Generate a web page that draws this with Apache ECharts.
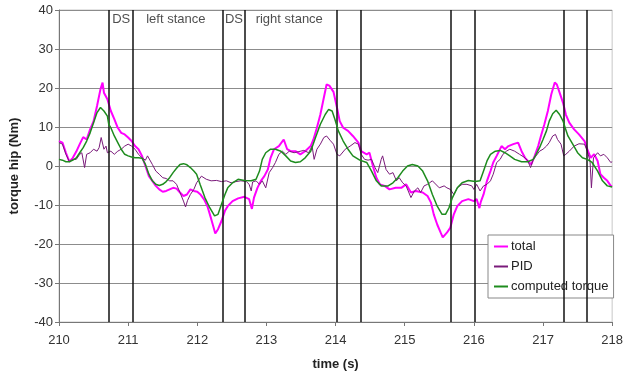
<!DOCTYPE html>
<html>
<head>
<meta charset="utf-8">
<script src="https://cdn.jsdelivr.net/npm/echarts@6/dist/echarts.min.js"></script>
<style>
  html, body { margin: 0; padding: 0; background: #fff; }
  #main { width: 626px; height: 377px; }
</style>
</head>
<body>
<div id="main"></div>
<script>
// gait phase boundaries (s)
const phaseLines = [210.72, 211.06, 212.37, 212.69, 214.01, 214.36, 215.67, 216.01, 217.30, 217.63]
const phaseLabels = [
  ['DS', 210.90, 37.6],
  ['left stance', 211.69, 37.6],
  ['DS', 212.53, 37.6],
  ['right stance', 213.33, 37.6],
]

const total = [
  [210.00, 6.4], [210.05, 6.0], [210.10, 3.4], [210.15, 1.1], [210.20, 2.1], [210.25, 3.7], [210.30, 5.6], [210.35, 7.4],
  [210.40, 6.8], [210.45, 9.4], [210.50, 11.5], [210.55, 15.4], [210.60, 19.7], [210.63, 21.4], [210.65, 18.8], [210.70, 17.1],
  [210.75, 14.1], [210.80, 12.0], [210.85, 9.8], [210.90, 8.5], [210.95, 8.1], [211.00, 7.3], [211.05, 6.4], [211.10, 5.1],
  [211.15, 4.3], [211.20, 2.6], [211.25, 0], [211.30, -2.6], [211.35, -3.8], [211.40, -5.1], [211.45, -6.0], [211.50, -6.6],
  [211.55, -6.4], [211.60, -6.0], [211.65, -5.6], [211.70, -5.8], [211.75, -6.8], [211.80, -7.7], [211.85, -7.3], [211.90, -6.0],
  [211.95, -6.4], [212.00, -6.6], [212.05, -7.4], [212.10, -8.6], [212.15, -10.5], [212.20, -13.5], [212.23, -15.4], [212.26, -17.3],
  [212.30, -16.2], [212.35, -14.1], [212.40, -11.5], [212.44, -10.3], [212.51, -9.0], [212.59, -8.3], [212.68, -7.9], [212.75, -8.5],
  [212.79, -11.0], [212.82, -8.1], [212.87, -5.6], [212.92, -3.8], [212.97, -2.6], [213.02, -0.9], [213.06, 2.1], [213.11, 4.3],
  [213.18, 5.1], [213.25, 6.8], [213.30, 4.3], [213.35, 3.8], [213.42, 3.8], [213.49, 3.0], [213.56, 3.8], [213.64, 5.1],
  [213.68, 6.8], [213.73, 9.8], [213.78, 13.2], [213.83, 17.5], [213.87, 20.9], [213.91, 20.6], [213.97, 19.0], [214.02, 15.0],
  [214.06, 11.5], [214.11, 9.8], [214.18, 9.0], [214.25, 7.7], [214.33, 6.0], [214.37, 3.8], [214.45, 3.0], [214.49, 3.4],
  [214.54, 0], [214.59, -3.0], [214.64, -4.7], [214.71, -5.1], [214.78, -6.0], [214.87, -5.6], [214.95, -5.6], [215.02, -4.7],
  [215.09, -6.8], [215.16, -6.4], [215.26, -6.8], [215.33, -7.7], [215.38, -9.4], [215.42, -12.4], [215.47, -15.0], [215.52, -17.1],
  [215.55, -18.3], [215.61, -17.1], [215.66, -15.8], [215.71, -12.4], [215.76, -10.3], [215.83, -9.0], [215.92, -8.5], [216.00, -9.0],
  [216.04, -8.5], [216.08, -10.8], [216.10, -9.2], [216.14, -7.3], [216.19, -3.8], [216.24, -1.3], [216.28, 0.9], [216.33, 2.6],
  [216.40, 5.1], [216.45, 4.3], [216.50, 5.1], [216.57, 5.6], [216.64, 6.0], [216.69, 3.8], [216.74, 2.1], [216.78, 1.3],
  [216.83, 0.4], [216.88, 2.6], [216.93, 5.1], [216.97, 7.7], [217.02, 10.7], [217.07, 14.1], [217.12, 18.4], [217.17, 21.4],
  [217.20, 20.9], [217.24, 18.8], [217.29, 16.2], [217.33, 13.2], [217.38, 11.1], [217.45, 9.4], [217.52, 8.1], [217.60, 6.4],
  [217.64, 4.3], [217.69, 2.1], [217.74, 3.0], [217.79, 1.3], [217.83, -2.1], [217.88, -3.0], [217.93, -3.8], [217.98, -5.1],
  [218.00, -5.1],
]

const pid = [
  [210.00, 6.0], [210.05, 5.6], [210.10, 3.0], [210.15, 1.1], [210.20, 1.7], [210.25, 1.7], [210.30, 3.0], [210.33, 3.4],
  [210.37, -0.4], [210.40, 3.0], [210.45, 3.4], [210.50, 4.3], [210.55, 3.8], [210.58, 4.7], [210.61, 7.3], [210.65, 4.3],
  [210.68, 5.1], [210.70, 3.4], [210.75, 3.8], [210.80, 3.0], [210.85, 3.8], [210.90, 4.3], [210.95, 5.1], [211.00, 5.6],
  [211.05, 5.1], [211.10, 4.3], [211.15, 3.0], [211.20, 2.1], [211.25, 1.5], [211.28, 2.6], [211.30, 2.1], [211.35, 0.4],
  [211.40, -1.3], [211.45, -2.1], [211.50, -3.0], [211.55, -3.2], [211.60, -3.8], [211.65, -3.8], [211.70, -4.7], [211.75, -6.8],
  [211.80, -9.0], [211.83, -10.5], [211.86, -8.8], [211.90, -7.3], [211.95, -6.0], [211.99, -4.3], [212.06, -2.6], [212.13, -3.4],
  [212.20, -3.8], [212.28, -3.7], [212.35, -4.0], [212.42, -3.8], [212.49, -4.3], [212.56, -4.0], [212.63, -3.8], [212.71, -4.0],
  [212.75, -4.7], [212.78, -6.4], [212.80, -4.1], [212.85, -3.8], [212.90, -4.7], [212.94, -3.8], [212.99, -5.6], [213.04, -1.7],
  [213.09, -0.4], [213.13, 0.9], [213.18, 3.0], [213.23, 3.8], [213.28, 3.0], [213.33, 3.8], [213.40, 3.4], [213.47, 3.7],
  [213.54, 4.0], [213.61, 3.4], [213.66, 5.1], [213.69, 1.7], [213.73, 4.3], [213.78, 5.6], [213.83, 7.3], [213.87, 7.7],
  [213.92, 6.6], [213.97, 5.6], [214.02, 3.0], [214.06, 2.6], [214.14, 4.3], [214.21, 5.1], [214.28, 6.0], [214.33, 5.6],
  [214.37, 3.0], [214.42, 1.7], [214.47, 1.5], [214.52, 1.7], [214.57, -0.4], [214.61, -1.7], [214.66, 1.7], [214.68, 2.6],
  [214.73, -0.9], [214.78, -2.1], [214.83, -1.7], [214.88, -3.8], [214.92, -3.0], [214.97, -4.3], [215.02, -5.1], [215.09, -8.1],
  [215.14, -6.4], [215.19, -5.6], [215.23, -6.8], [215.28, -5.1], [215.33, -4.7], [215.40, -3.8], [215.50, -5.6], [215.57, -5.1],
  [215.61, -5.6], [215.66, -6.0], [215.71, -7.3], [215.76, -5.6], [215.83, -4.7], [215.90, -4.7], [215.97, -5.1], [216.00, -6.0],
  [216.04, -4.7], [216.09, -6.4], [216.14, -5.1], [216.19, -4.7], [216.24, -3.8], [216.28, -2.1], [216.33, 0.9], [216.38, 1.7],
  [216.42, 3.0], [216.47, 3.8], [216.52, 4.3], [216.59, 3.8], [216.66, 3.0], [216.74, 2.1], [216.78, 1.3], [216.82, -0.4],
  [216.86, 1.7], [216.90, 2.6], [216.95, 3.8], [217.00, 4.3], [217.05, 5.1], [217.09, 6.0], [217.14, 7.7], [217.18, 8.1],
  [217.21, 6.8], [217.26, 5.6], [217.30, 2.6], [217.33, 3.0], [217.38, 3.8], [217.45, 5.1], [217.52, 5.7], [217.60, 5.6],
  [217.64, 3.8], [217.68, 1.3], [217.70, -5.6], [217.73, 2.1], [217.79, 3.4], [217.83, 2.6], [217.88, 3.0], [217.93, 2.1],
  [217.98, 0.9], [218.00, 1.1],
]

const computed = [
  [210.00, 1.7], [210.05, 1.5], [210.10, 1.1], [210.15, 1.1], [210.20, 1.5], [210.25, 2.1], [210.30, 3.4], [210.35, 4.7],
  [210.40, 6.4], [210.45, 8.5], [210.50, 11.1], [210.55, 13.7], [210.60, 15.0], [210.65, 14.1], [210.70, 12.8], [210.72, 10.7],
  [210.75, 9.8], [210.80, 7.7], [210.85, 6.0], [210.90, 4.3], [210.95, 3.0], [211.00, 2.6], [211.05, 2.3], [211.10, 2.1],
  [211.15, 2.1], [211.20, 2.0], [211.25, 0.4], [211.30, -2.1], [211.35, -3.8], [211.40, -4.7], [211.45, -5.0], [211.50, -4.7],
  [211.55, -4.0], [211.60, -3.0], [211.65, -1.7], [211.70, -0.6], [211.75, 0.4], [211.80, 0.6], [211.85, 0.3], [211.90, -0.4],
  [211.95, -1.3], [211.99, -2.1], [212.04, -4.7], [212.11, -8.1], [212.18, -10.7], [212.25, -12.8], [212.30, -12.4], [212.35, -9.8],
  [212.40, -7.3], [212.44, -5.6], [212.51, -4.3], [212.59, -3.4], [212.68, -3.7], [212.78, -3.8], [212.85, -3.4], [212.90, -1.3],
  [212.94, 1.7], [212.99, 3.4], [213.06, 4.3], [213.13, 4.3], [213.21, 3.8], [213.28, 2.6], [213.35, 1.3], [213.42, 0.9],
  [213.49, 1.1], [213.56, 2.1], [213.64, 3.8], [213.71, 7.3], [213.78, 10.7], [213.85, 13.2], [213.90, 14.5], [213.95, 14.1],
  [213.99, 12.0], [214.04, 9.0], [214.11, 6.4], [214.18, 4.3], [214.25, 2.6], [214.35, 1.5], [214.45, 0.9], [214.52, -1.3],
  [214.59, -3.8], [214.66, -5.1], [214.76, -5.1], [214.83, -4.3], [214.90, -3.0], [214.97, -1.3], [215.04, 0], [215.11, 0.4],
  [215.19, 0], [215.26, -1.3], [215.33, -3.8], [215.40, -7.3], [215.47, -10.3], [215.54, -12.4], [215.59, -12.4], [215.64, -10.7],
  [215.69, -8.1], [215.76, -5.6], [215.83, -4.3], [215.92, -3.7], [216.02, -4.0], [216.09, -3.8], [216.14, -1.3], [216.19, 1.3],
  [216.24, 3.0], [216.31, 3.8], [216.38, 4.0], [216.45, 3.4], [216.52, 2.6], [216.59, 1.7], [216.69, 1.1], [216.78, 1.1],
  [216.86, 1.7], [216.90, 3.0], [216.95, 4.7], [217.00, 6.8], [217.05, 9.0], [217.09, 11.5], [217.14, 13.4], [217.19, 14.3],
  [217.24, 13.2], [217.29, 11.5], [217.32, 9.8], [217.36, 7.7], [217.43, 5.6], [217.50, 3.4], [217.57, 2.1], [217.64, 1.7],
  [217.71, 0.9], [217.79, -1.3], [217.86, -3.8], [217.93, -5.1], [218.00, -5.4],
]

const chart = echarts.init(document.getElementById('main'))
const font = 'Liberation Sans, Arial, sans-serif'

const option = {
  animation: false,
  backgroundColor: '#fff',
  textStyle: { fontFamily: font },
  grid: {
    left: 56, right: 11, top: 10, bottom: 55,
    show: true, borderColor: '#c8c8c8', borderWidth: 1
  },
  legend: {
    orient: 'vertical',
    left: 488, top: 235,
    padding: [4, 5, 4, 6],
    itemGap: 5,
    icon: 'rect',
    itemWidth: 14,
    itemHeight: 2,
    backgroundColor: '#fff',
    borderColor: '#888',
    borderWidth: 1,
    borderRadius: 0,
    textStyle: { fontFamily: font, fontSize: 13, color: '#222', padding: [0, 0, 0, -2], lineHeight: 15 },
    data: ['total', 'PID', 'computed torque']
  },
  xAxis: {
    type: 'value',
    min: 210, max: 218, interval: 1,
    name: 'time (s)',
    nameLocation: 'middle',
    nameGap: 36,
    nameTextStyle: { fontFamily: font, fontSize: 13, fontWeight: 'bold', color: '#222' },
    axisLine: { onZero: false, lineStyle: { color: '#777', width: 1 } },
    axisTick: { show: true, length: 4, lineStyle: { color: '#777' } },
    axisLabel: { fontFamily: font, fontSize: 13, color: '#333', margin: 12 },
    splitLine: { show: false }
  },
  yAxis: {
    type: 'value',
    min: -40, max: 40, interval: 10,
    name: 'torque hip (Nm)',
    nameLocation: 'middle',
    nameGap: 38,
    nameTextStyle: { fontFamily: font, fontSize: 13, fontWeight: 'bold', color: '#222' },
    axisLine: { show: true, onZero: false, lineStyle: { color: '#777', width: 1 } },
    axisTick: { show: true, length: 4, lineStyle: { color: '#777' } },
    axisLabel: { fontFamily: font, fontSize: 13, color: '#333', margin: 6 },
    splitLine: { show: true, lineStyle: { color: '#8c8c8c', width: 1 } }
  },
  series: [
    {
      name: 'phases',
      type: 'scatter',
      z: 1,
      symbolSize: 0,
      silent: true,
      data: phaseLabels.map(d => ({ value: [d[1], d[2]], label: { formatter: d[0] } })),
      label: {
        show: true, position: 'inside',
        fontFamily: font, fontSize: 13, color: '#222'
      },
      markLine: {
        silent: true,
        symbol: ['none', 'none'],
        label: { show: false },
        lineStyle: { color: '#111', width: 1.5, type: 'solid' },
        data: phaseLines.map(x => ({ xAxis: x }))
      }
    },
    {
      name: 'total',
      type: 'line',
      z: 3,
      symbol: 'none',
      data: total,
      color: '#ff00ff',
      lineStyle: { color: '#ff00ff', width: 2 }
    },
    {
      name: 'PID',
      type: 'line',
      z: 4,
      symbol: 'none',
      data: pid,
      color: '#7a1a7a',
      lineStyle: { color: '#7a1a7a', width: 1 }
    },
    {
      name: 'computed torque',
      type: 'line',
      z: 5,
      symbol: 'none',
      data: computed,
      color: '#1e8c1e',
      lineStyle: { color: '#1e8c1e', width: 1.5 }
    }
  ]
}

option && chart.setOption(option)
</script>
</body>
</html>
